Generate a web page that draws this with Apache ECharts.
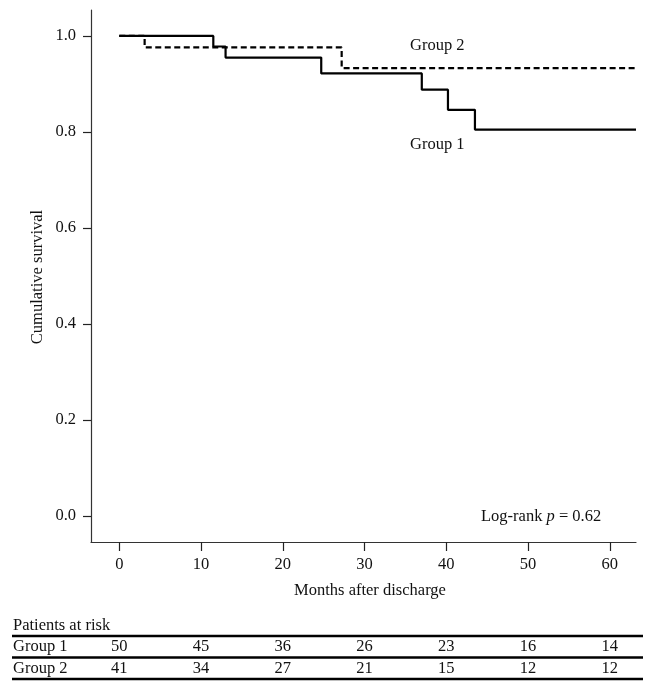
<!DOCTYPE html>
<html><head><meta charset="utf-8">
<script src="https://cdn.jsdelivr.net/npm/echarts@6/dist/echarts.min.js"></script>
<style>html,body{margin:0;padding:0;background:#fff}#c{width:654px;height:691px}</style>
</head><body><div id="c"></div>
<script>
const group1Months = [0, 11.5, 13.0, 24.7, 37.0, 40.2, 43.5, 63.2];
const group1Survival = [1.0, 0.978, 0.955, 0.922, 0.888, 0.846, 0.805, 0.805];
const group2Months = [0, 3.1, 27.2, 63.2];
const group2Survival = [1.0, 0.976, 0.933, 0.933];
const xTicks = [0, 10, 20, 30, 40, 50, 60];
const yTicks = [0, 0.2, 0.4, 0.6, 0.8, 1.0];
const riskTimes = [0, 10, 20, 30, 40, 50, 60];
const riskGroup1 = [50, 45, 36, 26, 23, 16, 14];
const riskGroup2 = [41, 34, 27, 21, 15, 12, 12];
const groupNames = ['Group 1', 'Group 2'];

const FONT = "'Liberation Serif', 'DejaVu Serif', serif";
const chart = echarts.init(document.getElementById('c'), null, {renderer: 'canvas'});

function pairs(xs, ys) { return xs.map((x, i) => [x, ys[i]]); }

const axisText = {fontFamily: FONT, fontSize: 16.5, color: '#111'};

chart.setOption({
  animation: false,
  backgroundColor: '#fff',
  grid: {left: 91, top: 10, right: 18, bottom: 149, containLabel: false},
  xAxis: {
    type: 'value', min: -3.46, max: 63.2,
    axisLine: {show: true, onZero: false, lineStyle: {color: '#333', width: 1.2}},
    axisTick: {show: true, customValues: xTicks, length: 9, lineStyle: {color: '#222', width: 1.2}},
    axisLabel: Object.assign({customValues: xTicks, margin: 14}, axisText),
    splitLine: {show: false}
  },
  yAxis: {
    type: 'value', min: -0.054, max: 1.054,
    axisLine: {show: true, onZero: false, lineStyle: {color: '#333', width: 1.2}},
    axisTick: {show: true, customValues: yTicks, length: 8, lineStyle: {color: '#222', width: 1.2}},
    axisLabel: Object.assign({customValues: yTicks, margin: 15, formatter: v => v.toFixed(1)}, axisText),
    splitLine: {show: false}
  },
  series: [
    {name: groupNames[0], type: 'line', step: 'end', symbol: 'none', data: pairs(group1Months, group1Survival),
     lineStyle: {color: '#000', width: 2.2, type: 'solid'}, z: 3},
    {name: groupNames[1], type: 'line', step: 'end', symbol: 'none', data: pairs(group2Months, group2Survival),
     lineStyle: {color: '#000', width: 2.2, type: [6, 3.5]}, z: 2}
  ]
});

const colX = riskTimes.map(t => chart.convertToPixel({xAxisIndex: 0}, t));
const txt = (x, y, s, align, extra) => ({
  type: 'text', x: x, y: y,
  style: Object.assign({text: s, fontFamily: FONT, fontSize: 16.5, fill: '#111', align: align || 'center', verticalAlign: 'middle'}, extra || {})
});
const rule = (y) => ({type: 'line', shape: {x1: 12, y1: y, x2: 643, y2: y}, style: {stroke: '#000', lineWidth: 2.6}});

const g = [];
g.push(Object.assign(txt(38, 277, 'Cumulative survival'), {rotation: Math.PI / 2}));
g.push(txt(370, 591, 'Months after discharge'));
g.push(txt(410, 46, groupNames[1], 'left'));
g.push(txt(410, 145, groupNames[0], 'left'));
g.push({type: 'text', x: 481, y: 517, style: {
  text: '{n|Log-rank }{i|p}{n| = 0.62}', align: 'left', verticalAlign: 'middle',
  rich: {n: {fontFamily: FONT, fontSize: 16.5, fill: '#111'}, i: {fontFamily: FONT, fontSize: 16.5, fontStyle: 'italic', fill: '#111'}}
}});
g.push(txt(13, 626, 'Patients at risk', 'left'));
g.push(rule(636));
g.push(rule(657.5));
g.push(rule(679));
g.push(txt(13, 647, groupNames[0], 'left'));
g.push(txt(13, 669, groupNames[1], 'left'));
colX.forEach((x, i) => {
  g.push(txt(x, 647, String(riskGroup1[i])));
  g.push(txt(x, 669, String(riskGroup2[i])));
});
chart.setOption({graphic: g});
</script>
</body></html>
